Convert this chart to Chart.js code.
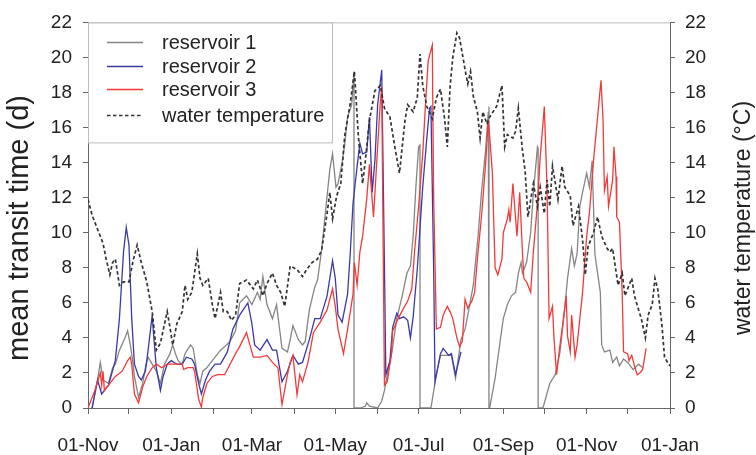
<!DOCTYPE html>
<html>
<head>
<meta charset="utf-8">
<script src="https://cdn.jsdelivr.net/npm/chart.js@4.4.1/dist/chart.umd.min.js"></script>
<style>
  html, body { margin: 0; padding: 0; background: #fff; }
  #wrap { width: 756px; height: 455px; }
</style>
</head>
<body>
<div id="wrap"><canvas id="c" width="756" height="455"></canvas></div>
<script>
// ---- data (day index counted from 01-Nov; value) ----
const monthTickDays = [0, 30, 61, 92, 120, 151, 181, 212, 242, 273, 304, 334, 365, 395, 426];
const monthTickLabels = ['01-Nov', '', '01-Jan', '', '01-Mar', '', '01-May', '', '01-Jul', '', '01-Sep', '', '01-Nov', '', '01-Jan'];
const seriesNames = ['reservoir 1', 'reservoir 2', 'reservoir 3', 'water temperature'];

const reservoir1 = [[3,0],[7,1.6],[9,2.6],[11,1.6],[15,1.4],[18,2.3],[20,2.5],[23,3.3],[27,4.0],[29,4.4],[31,3.6],[33,2.5],[34,1.8],[37,0.6],[40,1.4],[42,2.3],[44,2.9],[47,2.5],[50,2.1],[53,1.4],[56,2.5],[60,3.1],[62,3.6],[64,3.1],[66,2.7],[69,2.5],[71,3.1],[75,3.6],[77,3.4],[80,1.9],[82,1.4],[84,2.1],[87,2.3],[89,2.5],[93,2.9],[97,3.3],[100,3.5],[104,3.8],[108,4.4],[111,6.0],[116,6.4],[120,5.9],[124,6.6],[126,6.2],[128,7.5],[131,5.9],[135,5.1],[138,5.9],[142,3.4],[146,3.2],[148,3.9],[150,4.7],[154,3.9],[157,3.6],[159,3.8],[162,5.6],[166,6.9],[168,7.3],[171,9.0],[175,12.1],[177,13.6],[179,14.5],[181.5,12.6],[183,12.8],[186,14.0],[188,15.1],[190,16.6],[193,17.3],[194.7,19.2],[194.7,0],[199,0],[203,0.1],[204,0.3],[206,0.1],[212,0],[215,0.4],[217,1.0],[220,2.3],[222.5,3.2],[226,5.1],[230,6.4],[233.5,7.7],[236,8.1],[238,9.8],[240,12.6],[242,14.9],[243,15.0],[243,0],[251,0],[255,1.9],[258,3.0],[262,3.0],[266,3.0],[269,1.7],[273,3.9],[276,4.5],[278,5.3],[282,7.0],[285.5,9.8],[288,12.3],[291,14.7],[293,16.9],[293.5,17.2],[293.5,0],[294,0],[298,1.7],[302,4.0],[304,5.1],[307,5.9],[310,6.4],[313,6.6],[315,7.7],[317,8.3],[318,7.7],[321,8.3],[324,10.0],[326,12.3],[329,14.9],[329.5,14.8],[329.5,0],[333,0],[338,1.4],[342,1.9],[345.5,3.2],[349,5.7],[351,7.4],[354,9.1],[356,8.1],[358,8.8],[360,11.5],[362,12.3],[365,13.4],[367,12.6],[369,14.1],[370,11.5],[371,8.8],[373,7.7],[375,6.6],[376,3.6],[378,3.2],[382,3.3],[384,2.6],[387,2.9],[389,2.4],[392,2.8],[395,2.6],[399,2.2],[403,2.5],[406,2.3]];

const reservoir2 = [[3,0],[7,1.6],[10,0.8],[15,1.3],[20,2.7],[23,5.1],[26,8.9],[28,10.3],[30,9.3],[32,5.1],[34,2.5],[37,1.8],[39,1.6],[42,2.1],[44,3.3],[47,5.3],[48,4.2],[50,2.3],[53,1.0],[55,1.8],[58,2.5],[61,2.7],[65,2.5],[69,2.5],[72,2.9],[76,2.8],[78,2.5],[81,1.4],[83,0.8],[86,1.6],[89,2.1],[93,2.5],[97,2.5],[102,3.2],[106,4.5],[111,5.3],[117,6.0],[120,4.8],[122,3.6],[126,3.3],[131,3.9],[135,3.3],[138,3.3],[142,1.5],[146,2.1],[150,3.0],[154,2.5],[157,2.6],[162,3.9],[166,5.1],[170,5.1],[175,6.4],[179,8.4],[181,7.4],[183,5.3],[186,4.9],[190,6.5],[192,8.9],[194,11.7],[197,13.8],[199,15.1],[201,14.5],[204,14.6],[206,16.6],[208,12.3],[210,14.1],[212,17.3],[215,19.3],[217,8.0],[218,1.9],[221,2.7],[223,4.6],[226,5.4],[228,5.1],[231,5.2],[234,5.0],[236,4.0],[238,5.2],[241,7.9],[245,12.6],[248,15.4],[250,17.1],[251,17.2],[253,8.0],[254,1.5],[258,3.1],[260,3.4],[264,3.0],[266,3.1],[269,1.9],[273,3.2]];

const reservoir3 = [[0,0],[5,1.0],[9,2.0],[10,1.3],[11,2.1],[12,1.0],[16,1.4],[20,1.8],[25,2.1],[29,2.7],[31,2.9],[32,2.5],[34,0.8],[37,0.3],[38,0.6],[40,1.2],[43,1.8],[47,2.3],[50,2.5],[54,2.3],[58,2.5],[61,2.5],[69,2.5],[70,2.2],[73,2.3],[77,2.3],[78,2.1],[81,0.5],[83,0.05],[84,0.6],[87,1.4],[91,1.8],[95,1.9],[100,1.9],[104,2.5],[108,3.1],[111,3.5],[116,4.3],[121,2.9],[126,2.9],[131,3.0],[135,2.6],[139,2.3],[142,0.2],[146,1.9],[148,2.6],[150,3.0],[153,0.75],[155,1.9],[157,1.5],[161,2.6],[165,4.3],[170,4.9],[175,5.6],[179,6.8],[181,5.8],[183,4.5],[187,3.1],[190,4.5],[192,5.5],[194,6.5],[195,8.3],[197,7.0],[199,8.9],[201,9.8],[204,11.9],[206,13.9],[209,10.9],[212,14.9],[214,17.5],[215,18.3],[217,1.3],[219,1.5],[222,3.0],[223,4.4],[227,5.1],[231,5.7],[234,6.1],[237,6.8],[239,8.9],[242,11.5],[245,14.5],[247,17.3],[249,19.8],[252,20.7],[253,12.0],[255,4.5],[258,4.6],[260,5.3],[263,5.8],[265,5.5],[267,5.1],[270,4.0],[272,3.5],[274,3.8],[276,6.2],[278,5.7],[281,6.1],[283,6.6],[285,8.5],[288,10.9],[291,13.9],[293,16.4],[294,15.5],[296,13.4],[297,10.6],[298,8.0],[300,7.6],[303,8.5],[304,10.0],[307,10.8],[308,11.3],[309,10.6],[311,12.8],[313,10.8],[314,9.8],[316,12.3],[318,8.9],[319,7.4],[321,7.2],[322,7.0],[324,6.6],[326,8.9],[329,11.7],[331,14.3],[334,17.2],[336,12.6],[337.5,5.1],[340,5.8],[341,4.1],[343,1.9],[345,3.3],[348,5.1],[350,6.4],[351,4.1],[353,3.2],[354,5.3],[356.5,2.9],[358,3.6],[362,6.6],[365,9.8],[367,11.1],[370,14.1],[373,16.6],[375.5,18.7],[377,16.4],[378,12.4],[380,13.2],[381,11.5],[384,13.0],[385,14.9],[386.5,13.2],[387,10.9],[389,10.6],[391,6.6],[392,3.2],[395,3.1],[396,2.7],[398,3.0],[400,2.4],[402,1.9],[404,2.0],[406,2.2],[408.5,3.4]];

const waterTemperature = [[0,11.9],[3,11.0],[5,10.6],[9,9.8],[11,9.4],[13,8.6],[16,7.6],[18,8.3],[20,8.5],[23,7.0],[26,7.2],[30,7.2],[33,8.4],[36,9.3],[39,8.3],[43,7.2],[47,5.5],[50,3.3],[53,3.7],[56,4.8],[58,5.5],[60,4.6],[62,3.6],[65,4.8],[69,5.5],[71,7.0],[73,6.2],[76,6.6],[80,8.8],[82,7.4],[84,7.0],[88,7.4],[91,5.9],[93,5.1],[97,6.6],[99,5.5],[102,5.5],[105,5.0],[108,5.3],[111,7.1],[116,7.3],[121,6.8],[124,7.3],[128,6.4],[131,7.1],[135,7.7],[138,7.0],[141,6.6],[144,5.8],[148,8.1],[153,7.9],[157,7.5],[160,7.9],[164,8.3],[168,8.5],[171,9.0],[175,11.1],[177,12.3],[179,10.8],[182,12.1],[185,12.8],[188,15.6],[192,17.4],[195,19.2],[198,15.4],[201,12.8],[203,14.1],[206,16.4],[210,18.1],[214,18.4],[217,17.1],[221,16.6],[225,14.7],[228,13.4],[232,16.4],[234,17.3],[238,16.9],[241,17.7],[243,20.2],[245,18.4],[248,17.2],[252,16.5],[255,17.7],[258,18.2],[261,16.5],[263,14.9],[265,18.3],[267,20.0],[270,21.4],[272,21.1],[276,19.3],[278,18.5],[280,19.2],[282,17.8],[285,16.9],[287,15.4],[289,16.9],[292,16.2],[294,16.6],[299,17.2],[303,18.4],[305,14.9],[307,15.6],[311,15.4],[313,15.8],[315,17.1],[318,14.7],[320,13.5],[322,10.9],[326,12.8],[329,11.5],[331,12.6],[334,11.1],[336,13.0],[338,11.5],[340,13.8],[344,11.9],[347,13.8],[349,12.6],[353,12.1],[355,10.4],[359,11.5],[362,9.6],[364,7.6],[366,9.2],[370,10.0],[373,10.9],[376,9.8],[380,9.1],[382,8.9],[384,9.1],[388,7.0],[391,7.7],[393,6.4],[395,6.8],[398,7.4],[400,6.4],[403,5.6],[405,5.1],[408,4.0],[410,5.3],[413,5.9],[415,7.4],[417,6.8],[420,4.8],[422,2.9],[425,2.5],[426,2.4]];

// ---- styling ----
const FONT = '"Liberation Sans", Arial, Helvetica, sans-serif';
const TEXT = '#222';
const AXIS = '#666';
const toPts = arr => arr.map(p => ({ x: p[0], y: p[1] }));

const decor = {
  id: 'decor',
  afterDraw(chart) {
    const { ctx, chartArea: a } = chart;
    ctx.save();
    // top frame line
    ctx.strokeStyle = '#bdbdbd';
    ctx.lineWidth = 1;
    ctx.beginPath();
    ctx.moveTo(a.left, a.top + 0.5);
    ctx.lineTo(a.right, a.top + 0.5);
    ctx.stroke();

    // legend box
    const bx = a.left, by = a.top, bw = 244, bh = 120;
    ctx.fillStyle = '#fff';
    ctx.fillRect(bx + 1, by + 1, bw - 1, bh - 1);
    ctx.strokeStyle = '#bdbdbd';
    ctx.strokeRect(bx + 0.5, by + 0.5, bw, bh);
    const rowsY = [42, 66, 89, 115];
    chart.data.datasets.forEach((ds, i) => {
      const y = rowsY[i];
      ctx.strokeStyle = ds.borderColor;
      ctx.lineWidth = ds.borderWidth;
      ctx.setLineDash(ds.borderDash || []);
      ctx.beginPath();
      ctx.moveTo(107, y + 0.5);
      ctx.lineTo(143, y + 0.5);
      ctx.stroke();
      ctx.setLineDash([]);
      ctx.fillStyle = TEXT;
      ctx.font = '20px ' + FONT;
      ctx.textAlign = 'left';
      ctx.textBaseline = 'middle';
      ctx.fillText(ds.label, 162, y + 1);
    });

    // axis titles
    ctx.fillStyle = TEXT;
    ctx.textAlign = 'center';
    ctx.textBaseline = 'middle';
    ctx.save();
    ctx.translate(20, 228);
    ctx.rotate(-Math.PI / 2);
    ctx.font = '29px ' + FONT;
    ctx.fillText('mean transit time (d)', 0, 0);
    ctx.restore();
    ctx.save();
    ctx.translate(744, 218);
    ctx.rotate(-Math.PI / 2);
    ctx.font = '23px ' + FONT;
    ctx.fillText('water temperature (°C)', 0, 0);
    ctx.restore();
    ctx.restore();
  }
};

const yAxisCommon = {
  min: 0, max: 22,
  ticks: { stepSize: 2, color: TEXT, font: { family: FONT, size: 19 } },
  grid: { display: true, drawOnChartArea: false, drawTicks: true, tickLength: 5, color: AXIS },
  border: { display: true, color: AXIS, width: 1 }
};

new Chart(document.getElementById('c'), {
  type: 'line',
  data: {
    datasets: [
      { label: seriesNames[0], data: toPts(reservoir1), borderColor: '#858585', borderWidth: 1.3, order: 3 },
      { label: seriesNames[1], data: toPts(reservoir2), borderColor: '#3a3aa6', borderWidth: 1.3, order: 2 },
      { label: seriesNames[2], data: toPts(reservoir3), borderColor: '#f23a3a', borderWidth: 1.3, order: 1 },
      { label: seriesNames[3], data: toPts(waterTemperature), borderColor: '#333333', borderWidth: 1.7, borderDash: [3.5, 2.5], yAxisID: 'y2', order: 0 }
    ]
  },
  options: {
    responsive: false,
    animation: false,
    devicePixelRatio: 1,
    elements: { point: { radius: 0 }, line: { tension: 0, fill: false } },
    layout: { padding: { top: 17, left: 0, right: 0, bottom: 0 } },
    plugins: { legend: { display: false }, tooltip: { enabled: false } },
    scales: {
      x: {
        type: 'linear', min: 0, max: 426,
        afterBuildTicks: s => { s.ticks = monthTickDays.map(v => ({ value: v })); },
        ticks: {
          autoSkip: false, maxRotation: 0, minRotation: 0, padding: 20,
          color: TEXT, font: { family: FONT, size: 19 },
          callback: (v, i) => monthTickLabels[i]
        },
        grid: { display: true, drawOnChartArea: false, drawTicks: true, tickLength: 6, color: AXIS },
        border: { display: true, color: AXIS, width: 1 },
        afterFit: s => { s.height = 47; }
      },
      y: Object.assign({}, yAxisCommon, {
        position: 'left',
        ticks: Object.assign({}, yAxisCommon.ticks, { padding: 11 }),
        afterFit: s => { s.width = 88; }
      }),
      y2: Object.assign({}, yAxisCommon, {
        position: 'right',
        ticks: Object.assign({}, yAxisCommon.ticks, { padding: 10 }),
        afterFit: s => { s.width = 86; }
      })
    }
  },
  plugins: [decor]
});
</script>
</body>
</html>
